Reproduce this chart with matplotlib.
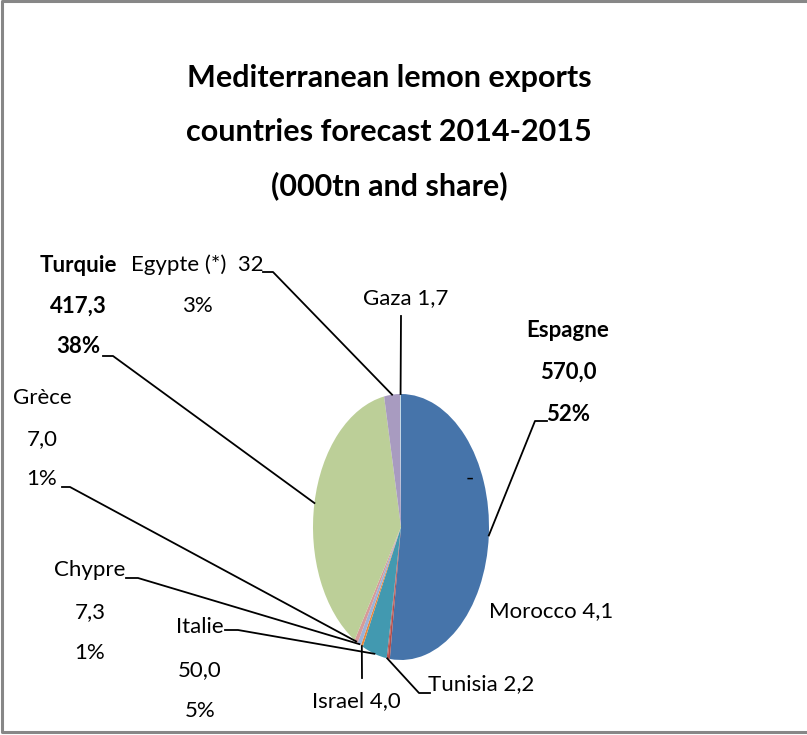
import matplotlib.pyplot as plt
import numpy as np

plt.rcParams['font.family'] = ['Lato', 'DejaVu Sans']

# data, clockwise from 12 o'clock as in the original Excel pie
countries = ["Espagne", "Morocco", "Tunisia", "Italie", "Israel", "Chypre", "Grèce", "Turquie", "Egypte (*)", "Gaza"]
volumes = [570.0, 4.1, 2.2, 50.0, 4.0, 7.3, 7.0, 417.3, 32.0, 1.7]
colours = ["#4674aa", "#b04e4b", "#c0504d", "#4299b0", "#e8883c",
           "#9cb2d9", "#d69a99", "#bccf98", "#a89bc0", "#b7d5e4"]

title_lines = ["Mediterranean lemon exports", "countries forecast 2014-2015", "(000tn and share)"]

W, H = 807, 735
LABEL_SIZE = 16
TITLE_SIZE = 22


def fmt(v):
    return f"{v:.1f}".replace(".", ",")


total = sum(volumes)
share = {c: f"{round(100 * v / total):.0f}%" for c, v in zip(countries, volumes)}
vol = {c: v for c, v in zip(countries, volumes)}

# label text, anchor x, line y's, bold, leader points on the label side
labels = {
    "Espagne": (["Espagne", fmt(vol["Espagne"]), share["Espagne"]], 568, [330, 372, 414], True,
                [(547, 421), (535, 421)]),
    "Morocco": ([f"Morocco {fmt(vol['Morocco'])}"], 551, [611], False, None),
    "Tunisia": ([f"Tunisia {fmt(vol['Tunisia'])}"], 481, [684], False, [(430, 693), (419, 693)]),
    "Israel": ([f"Israel {fmt(vol['Israel'])}"], 356, [701], False, [(362, 678)]),
    "Italie": (["Italie", fmt(vol["Italie"]), share["Italie"]], 200, [627, 670, 711], False,
               [(225, 630), (238, 630)]),
    "Chypre": (["Chypre", fmt(vol["Chypre"]), share["Chypre"]], 90, [570, 612, 653], False,
               [(126, 578), (138, 578)]),
    "Grèce": (["Grèce", fmt(vol["Grèce"]), share["Grèce"]], 42, [398, 439, 479], False,
              [(62, 487), (70, 487)]),
    "Turquie": (["Turquie", fmt(vol["Turquie"]), share["Turquie"]], 78, [265, 306, 346], True,
                [(103, 356), (113, 356)]),
    "Egypte (*)": ([f"Egypte (*)  {vol['Egypte (*)']:.0f}", share["Egypte (*)"]], 197, [265, 306], False,
                   [(263, 272), (273, 272)]),
    "Gaza": ([f"Gaza {fmt(vol['Gaza'])}"], 406, [298], False, [(401, 316)]),
}

fig = plt.figure(figsize=(W / 100, H / 100), dpi=100)

# pie box in pixels (the original is stretched vertically)
left, right, top, bottom = 313, 489, 394, 660
ax = fig.add_axes([left / W, 1 - bottom / H, (right - left) / W, (bottom - top) / H])
wedges, _ = ax.pie(volumes, colors=colours, startangle=90, counterclock=False,
                   wedgeprops=dict(linewidth=0))
ax.set_aspect('auto')
ax.set_xlim(-1, 1)
ax.set_ylim(-1, 1)

over = fig.add_axes([0, 0, 1, 1], zorder=5)
over.set_xlim(0, W)
over.set_ylim(H, 0)
over.axis('off')


def to_px(x, y):
    d = ax.transData.transform((x, y))
    return over.transData.inverted().transform(d)


for line, y in zip(title_lines, [78, 132, 186]):
    over.text(389, y, line, ha='center', va='center', fontsize=TITLE_SIZE, fontweight='bold')

for c, w in zip(countries, wedges):
    lines, x, ys, bold, lead = labels[c]
    for s, y in zip(lines, ys):
        over.text(x, y, s, ha='center', va='center', fontsize=LABEL_SIZE,
                  fontweight='bold' if bold else 'normal')
    if lead:
        mid = np.deg2rad((w.theta1 + w.theta2) / 2)
        ex, ey = to_px(np.cos(mid), np.sin(mid))
        xs = [p[0] for p in lead] + [ex]
        yv = [p[1] for p in lead] + [ey]
        over.plot(xs, yv, color='black', lw=1.3)

over.text(470, 479, "-", ha='center', va='center', fontsize=LABEL_SIZE)

# chart border
over.plot([W + 5, 2, 2, W + 5], [1, 1, 732, 732], color='#878787', lw=2.2, clip_on=False)

fig.savefig("out.png", dpi=100)
